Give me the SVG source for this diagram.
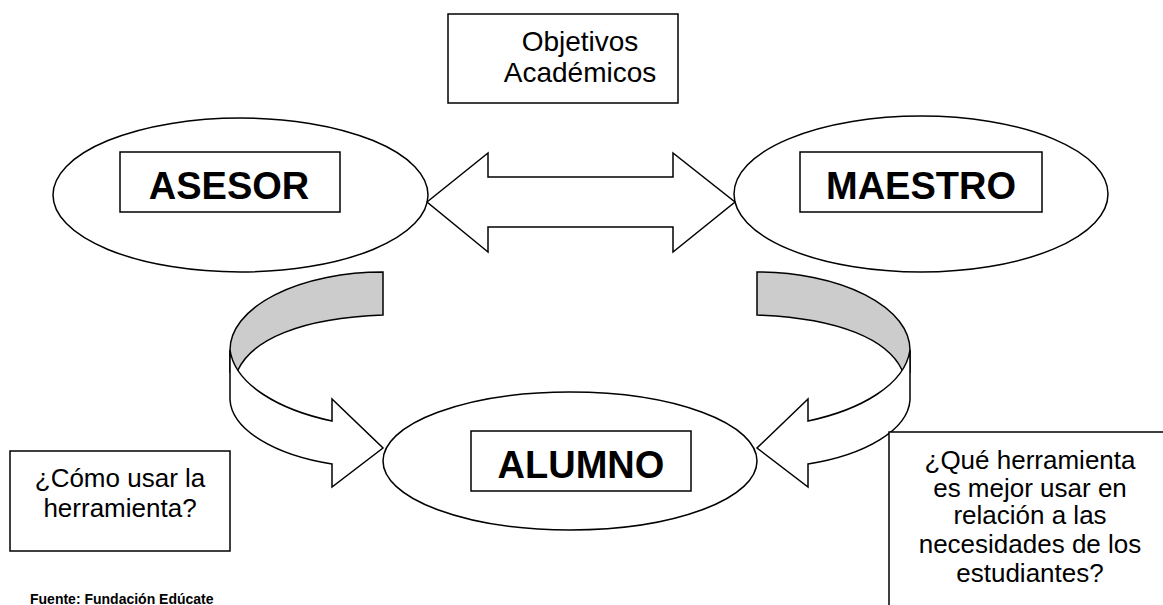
<svg xmlns="http://www.w3.org/2000/svg" xmlns:xlink="http://www.w3.org/1999/xlink" width="1163" height="605" viewBox="0 0 1163 605">
<style>
.ln{fill:#ffffff;stroke:#000000;stroke-width:1.5;stroke-linejoin:miter}
.gray{fill:#cccccc;stroke:#000000;stroke-width:1.5}
.t{font-family:"Liberation Sans",Arial,sans-serif;font-size:26px;fill:#000000;text-anchor:middle}
.t2{font-family:"Liberation Sans",Arial,sans-serif;font-size:28px;fill:#000000;text-anchor:middle}
.b{font-family:"Liberation Sans",Arial,sans-serif;font-size:38px;font-weight:bold;fill:#000000;text-anchor:middle}
.src{font-family:"Liberation Sans",Arial,sans-serif;font-size:14px;font-weight:bold;fill:#000000}
</style>
<defs>
<g id="curvedArrow">
<path class="gray" d="M383,272 A153,78 0 0 0 230,350 L230,372 L238,370 C252,340 300,318 383,315 Z"/>
<path class="ln" d="M230,350 L230,400 C232,430 275,455 332,464 L332,487 L383,448 L332,399 L332,421 C280,410 235,385 230,350 Z"/>
</g>
</defs>
<rect width="1163" height="605" fill="#ffffff"/>

<g id="objetivos">
<rect class="ln" x="448" y="14" width="230" height="89"/>
<text class="t2" x="580" y="51">Objetivos</text>
<text class="t2" x="580" y="82">Académicos</text>
</g>

<g id="asesor">
<ellipse class="ln" cx="240.5" cy="195" rx="187.5" ry="77"/>
<rect class="ln" x="120" y="152" width="220" height="60"/>
<text class="b" x="229" y="199">ASESOR</text>
</g>

<g id="maestro">
<ellipse class="ln" cx="921" cy="194" rx="187" ry="78"/>
<rect class="ln" x="800" y="152" width="242" height="60"/>
<text class="b" x="921" y="199">MAESTRO</text>
</g>

<g id="alumno">
<ellipse class="ln" cx="570" cy="461" rx="187" ry="69"/>
<rect class="ln" x="471" y="431" width="220" height="60"/>
<text class="b" x="581" y="478">ALUMNO</text>
</g>

<g id="connectors">
<polygon class="ln" points="427,202 488,153 488,177 673,177 673,153 735,202 673,252 673,227 488,227 488,252"/>
<use xlink:href="#curvedArrow"/>
<use xlink:href="#curvedArrow" transform="translate(1140,0) scale(-1,1)"/>
</g>

<g id="como-usar">
<rect class="ln" x="10" y="451" width="220" height="100"/>
<text class="t" x="120" y="487">¿Cómo usar la</text>
<text class="t" x="120" y="517">herramienta?</text>
</g>

<g id="que-herramienta">
<rect class="ln" x="889" y="432" width="300" height="200"/>
<text class="t" x="1030" y="469">¿Qué herramienta</text>
<text class="t" x="1030" y="497">es mejor usar en</text>
<text class="t" x="1030" y="524">relación a las</text>
<text class="t" x="1030" y="553">necesidades de los</text>
<text class="t" x="1030" y="582">estudiantes?</text>
</g>

<g id="fuente">
<text class="src" x="30" y="604">Fuente: Fundación Edúcate</text>
</g>
</svg>
